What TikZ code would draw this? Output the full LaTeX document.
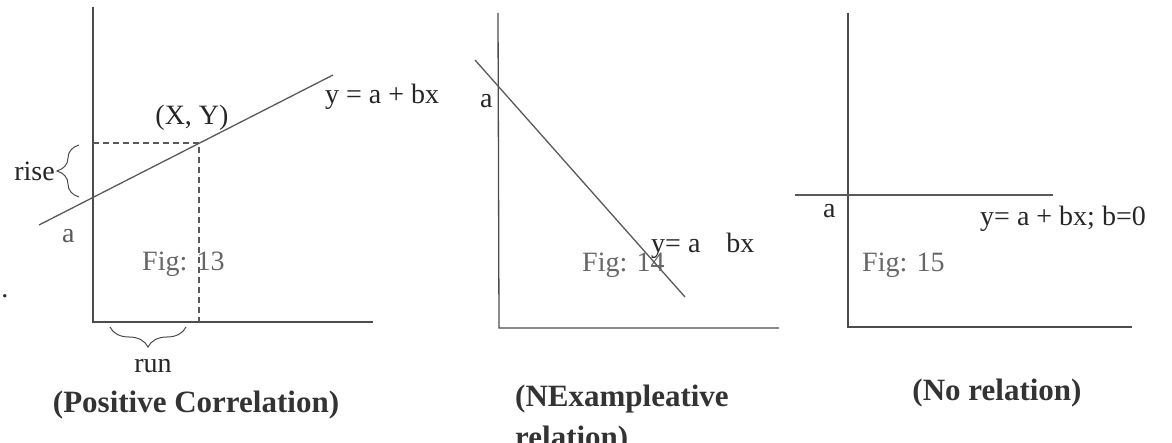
\documentclass[tikz,border=0pt]{standalone}
\usepackage{fontspec}
\setmainfont{Liberation Serif}
\usetikzlibrary{decorations.pathreplacing}
\begin{document}
\begin{tikzpicture}[x=1pt,y=-1pt,
  ax/.style={draw=black!70, line width=1.3pt},
  ln/.style={draw=black!65, line width=1.3pt},
  dsh/.style={draw=black!65, line width=1.2pt, dash pattern=on 6pt off 4pt},
  lbl/.style={inner sep=0pt, text=black!85, font=\fontsize{28}{32}\selectfont},
  fig/.style={lbl, text=black!60},
  ttl/.style={inner sep=0pt, text=black!80, font=\fontsize{31}{40}\selectfont\bfseries},
  brc/.style={draw=black!70, line width=1pt, decorate}]
\path[use as bounding box] (0,0) rectangle (1172,443);
\clip (0,0) rectangle (1172,443);
% ---------- panel 1 ----------
\coordinate (o1) at (93,322);
\coordinate (t1) at (93,7);
\coordinate (e1) at (373,322);
\coordinate (l1s) at (39,225);
\coordinate (l1e) at (333,75);
\coordinate (p1) at (199,143);
\coordinate (p1y) at (93,143);
\coordinate (p1x) at (199,322);
\draw[ax] (t1) -- (o1) -- (e1);
\draw[ln] (l1s) -- (l1e);
\draw[dsh] (p1y) -- (p1) -- (p1x);
\coordinate (r1a) at (79,197);
\coordinate (r1b) at (79,145);
\draw[brc, decoration={brace, amplitude=22pt, aspect=0.5}] (r1a) -- (r1b);
\coordinate (u1a) at (186,327);
\coordinate (u1b) at (110,327);
\draw[brc, decoration={brace, amplitude=20pt}] (u1a) -- (u1b);
\node[lbl, anchor=base] (xy) at (192,125) {(X, Y)};
\node[lbl, anchor=base west] (eq1) at (325,104) {y = a + bx};
\node[lbl, anchor=base east] (rise) at (55,181) {rise};
\node[lbl, anchor=base west, text=black!65] (a1) at (62,243) {a};
\node[fig, anchor=base west] (fig13) at (142,271) {Fig: 13};
\node[lbl, anchor=base] (dot) at (5,298) {.};
\node[lbl, anchor=base] (run) at (153,373) {run};
\node[ttl, anchor=base] (t1l) at (196,412) {(Positive Correlation)};
% ---------- panel 2 ----------
\coordinate (o2) at (499,328);
\coordinate (t2) at (498,13);
\coordinate (e2) at (779,328);
\coordinate (l2s) at (475,60);
\coordinate (l2e) at (685,297);
\draw[ax] (t2) -- (o2) -- (e2);
\draw[ln] (l2s) -- (l2e);
\node[lbl, anchor=base west] (a2) at (480,108) {a};
\node[lbl, anchor=base west] (eq2) at (651,253) {y= a \hspace{12pt} bx};
\node[fig, anchor=base west] (fig14) at (582,272) {Fig: 14};
\node[ttl, anchor=base west] (t2l) at (515,406) {(NExampleative};
\node[ttl, anchor=base west] (t2m) at (515,447) {relation)};
% ---------- panel 3 ----------
\coordinate (o3) at (848,327);
\coordinate (t3) at (848,13);
\coordinate (e3) at (1132,327);
\coordinate (l3s) at (795,195);
\coordinate (l3e) at (1053,195);
\draw[ax] (t3) -- (o3) -- (e3);
\draw[ln] (l3s) -- (l3e);
\node[lbl, anchor=base west] (a3) at (823,218) {a};
\node[lbl, anchor=base west] (eq3) at (980,226) {y= a + bx; b=0};
\node[fig, anchor=base west] (fig15) at (862,272) {Fig: 15};
\node[ttl, anchor=base] (t3l) at (997,400) {(No relation)};
\end{tikzpicture}
\end{document}
